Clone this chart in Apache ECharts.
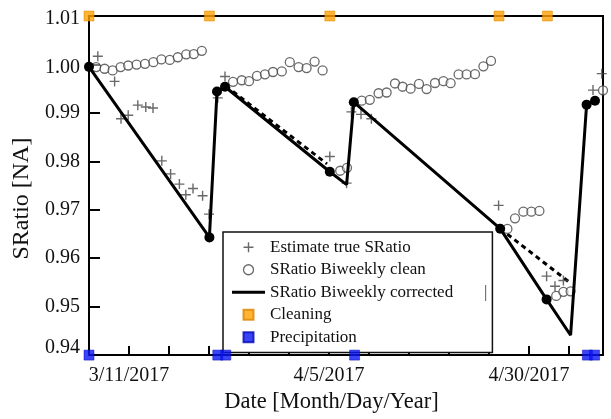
<!DOCTYPE html>
<html>
<head>
<meta charset="utf-8">
<script src="https://cdn.jsdelivr.net/npm/echarts@6/dist/echarts.min.js"></script>
<style>
html,body{margin:0;padding:0;background:#fff;}
#chart{width:611px;height:419px;}
</style>
</head>
<body>
<div id="chart"></div>
<script>
// ---- data (x = days since 3/6/2017, y = SRatio) ----
const xTickDays = [5, 30, 55];
const xTickTexts = ['3/11/2017', '4/5/2017', '4/30/2017'];

const estimateDays = [1.1, 3.2, 4.0, 4.9, 6.1, 7.1, 8.0, 9.1, 10.2, 11.3, 12.1, 13.0, 14.2, 15.0,
  16.1, 17.0, 30.1, 32.2, 32.8, 34.0, 35.3, 51.2, 57.2, 58.25, 59.3, 63.0, 64.1];
const estimateVals = [1.0017, 0.9965, 0.9888, 0.9895, 0.9916, 0.9912, 0.9910, 0.9801, 0.9774, 0.9753, 0.9731, 0.9744, 0.9729, 0.9691,
  0.9931, 0.9975, 0.9810, 0.9755, 0.9902, 0.9897, 0.9888, 0.9709, 0.9563, 0.9542, 0.9554, 0.9947, 0.9981];

const cleanDays = [0.9, 1.95, 2.95, 3.95, 4.9, 5.95, 7.0, 8.05, 9.05, 10.1, 11.1, 12.15, 13.1, 14.1,
  18.0, 19.1, 20.0, 21.0, 22.0, 23.0, 24.1, 25.1, 26.2, 27.2, 28.2, 29.2,
  31.4, 32.25,
  34.1, 35.1, 36.2, 37.2, 38.25, 39.2, 40.2, 41.25, 42.2, 43.25, 44.3, 45.2, 46.2, 47.2, 48.25, 49.3, 50.25,
  52.3, 53.25, 54.3, 55.3, 56.3, 58.4, 59.3, 60.2, 64.25];
const cleanVals = [0.99945, 0.99911, 0.99877, 0.99945, 0.99978, 0.99998, 1.00012, 1.00047, 1.00103, 1.00093, 1.00148, 1.00209, 1.00215, 1.00281,
  0.99642, 0.99674, 0.99654, 0.99763, 0.99796, 0.99844, 0.99856, 1.00047, 0.99945, 0.99925, 1.00059, 0.99877,
  0.97806, 0.97866,
  0.99253, 0.99269, 0.99405, 0.99421, 0.99607, 0.99540, 0.99500, 0.99597, 0.99492, 0.99617, 0.99654, 0.99613, 0.99794, 0.99794, 0.99800, 0.99962, 1.00073,
  0.96605, 0.96824, 0.96960, 0.96960, 0.96976, 0.95221, 0.95306, 0.95316, 0.99466];

const correctedDays = [0, 15.05, 16.0, 17.0, 30.1, 32.2, 33.1, 51.4, 57.2, 60.2, 62.2, 63.25];
const correctedVals = [0.9995, 0.9643, 0.9944, 0.9954, 0.97785, 0.9752, 0.9922, 0.9661, 0.9515, 0.9441, 0.9917, 0.9925];
const correctedNoDot = [5, 9]; // vertices drawn without a filled dot

const dashA_Days = [17.1, 29.75];
const dashA_Vals = [0.99555, 0.97947];
const dashB_Days = [51.4, 60.25];
const dashB_Vals = [0.96611, 0.95478];

const cleaningDays = [0, 15.05, 30.1, 51.25, 57.3];
const cleaningLevel = 1.01;
const precipDays = [0, 16.1, 17.1, 33.2, 62.3, 63.2];
const precipLevel = 0.94;

const yMin = 0.94, yMax = 1.01, yStep = 0.01;
const xMin = 0, xMax = 64.25, xStep = 5;

// ---- build ----
const FONT = "'Liberation Serif','Times New Roman',serif";
const zip = (a, b) => a.map((v, i) => [v, b[i]]);
const crossPath = 'path://M4.3,0H5.7V10H4.3Z M0,4.3H10V5.7H0Z';
const squarePath = 'path://M0,0H10V10H0Z';

const chart = echarts.init(document.getElementById('chart'));
const option = {
  animation: false,
  backgroundColor: '#fff',
  grid: { left: 89, right: 8, top: 16, bottom: 57, show: true, borderColor: '#000', borderWidth: 2, containLabel: false },
  xAxis: {
    type: 'value', min: xMin, max: xMax, interval: xStep,
    axisLine: { lineStyle: { color: '#000', width: 2 } },
    axisTick: { inside: true, length: 9, lineStyle: { color: '#000', width: 2 } },
    splitLine: { show: false },
    axisLabel: {
      margin: 11, fontSize: 20, fontFamily: FONT, color: '#111',
      formatter: v => { const i = xTickDays.findIndex(d => Math.abs(d - v) < 1e-6); return i >= 0 ? xTickTexts[i] : ''; }
    },
    name: 'Date [Month/Day/Year]', nameLocation: 'middle', nameGap: 29,
    nameTextStyle: { fontSize: 22.5, fontFamily: FONT, color: '#111', padding: [0, 29, 0, 0] }
  },
  yAxis: {
    type: 'value', min: yMin, max: yMax, interval: yStep,
    axisLine: { lineStyle: { color: '#000', width: 2 } },
    axisTick: { inside: true, length: 11, lineStyle: { color: '#000', width: 2 } },
    splitLine: { show: false },
    axisLabel: {
      margin: 9, fontSize: 20, fontFamily: FONT, color: '#111',
      formatter: v => {
        const s = v.toFixed(2);
        if (s === '0.94') return '{lo|' + s + '}';
        if (s === '1.00') return '{hi|' + s + '}';
        if (s === '1.01') return '{hi2|' + s + '}';
        return s;
      },
      rich: {
        lo: { fontSize: 20, fontFamily: FONT, color: '#111', padding: [0, 0, 14, 0] },
        hi: { fontSize: 20, fontFamily: FONT, color: '#111', padding: [7, 0, 0, 0] },
        hi2: { fontSize: 20, fontFamily: FONT, color: '#111', padding: [5, 0, 0, 0] }
      }
    },
    name: 'SRatio [NA]', nameLocation: 'middle', nameGap: 52, nameRotate: 90,
    nameTextStyle: { fontSize: 24, fontFamily: FONT, color: '#111', padding: [0, 26, 0, 0] }
  },
  legend: {
    left: 223, top: 232, orient: 'vertical',
    padding: [4, 5, 4, 9], itemGap: 0, itemWidth: 33, itemHeight: 10, itemTextGap: 6,
    backgroundColor: '#fff', borderColor: '#111', borderWidth: 1.5, borderRadius: 0,
    selectedMode: false,
    textStyle: {
      fontSize: 17, fontFamily: FONT, color: '#111', lineHeight: 22.5,
      rich: {
        a: { width: 214, fontSize: 17, fontFamily: FONT, color: '#111', lineHeight: 22.5 },
        b: { fontSize: 17, fontFamily: FONT, color: '#444', lineHeight: 22.5 }
      }
    },
    formatter: n => n === 'SRatio Biweekly corrected' ? '{a|' + n + '}{b||}' : n,
    data: [
      { name: 'Estimate true SRatio', icon: crossPath, itemStyle: { color: '#444' } },
      { name: 'SRatio Biweekly clean', icon: 'circle', itemStyle: { color: '#fff', borderColor: '#444', borderWidth: 1.3 } },
      { name: 'SRatio Biweekly corrected', icon: 'path://M0,0H33V3H0Z', itemStyle: { color: '#000' } },
      { name: 'Cleaning', icon: squarePath, itemStyle: { color: '#FFA200' } },
      { name: 'Precipitation', icon: squarePath, itemStyle: { color: '#0A14F5' } }
    ]
  },
  series: [
    {
      name: 'dashA', type: 'line', data: zip(dashA_Days, dashA_Vals), symbol: 'none', z: 3,
      lineStyle: { color: '#000', width: 3, type: [5, 4] }
    },
    {
      name: 'dashB', type: 'line', data: zip(dashB_Days, dashB_Vals), symbol: 'none', z: 3,
      lineStyle: { color: '#000', width: 3, type: [5, 4] }
    },
    {
      name: 'SRatio Biweekly clean', type: 'scatter', data: zip(cleanDays, cleanVals), z: 4, clip: false,
      symbol: 'circle', symbolSize: 9,
      itemStyle: { color: 'rgba(255,255,255,0.6)', borderColor: '#444', borderWidth: 1.3 }
    },
    {
      name: 'Estimate true SRatio', type: 'scatter', data: zip(estimateDays, estimateVals), z: 4, clip: false,
      symbol: crossPath, symbolSize: 10,
      itemStyle: { color: '#444' }
    },
    {
      name: 'SRatio Biweekly corrected', type: 'line', z: 5,
      data: correctedDays.map((d, i) => correctedNoDot.includes(i) ? { value: [d, correctedVals[i]], symbol: 'none' } : [d, correctedVals[i]]),
      symbol: 'circle', symbolSize: 10, showAllSymbol: true,
      lineStyle: { color: '#000', width: 3 }, itemStyle: { color: '#000' }
    },
    {
      name: 'Cleaning', type: 'scatter', z: 10, clip: false,
      data: cleaningDays.map(d => [d, cleaningLevel]),
      symbol: 'rect', symbolSize: 10,
      itemStyle: { color: '#FFA200', borderColor: '#D98300', borderWidth: 0.6 }
    },
    {
      name: 'Precipitation', type: 'scatter', z: 10, clip: false,
      data: precipDays.map(d => [d, precipLevel]),
      symbol: 'rect', symbolSize: 10,
      itemStyle: { color: '#0A14F5', borderColor: '#0008B0', borderWidth: 0.6 }
    }
  ]
};
chart.setOption(option);
</script>
</body>
</html>
